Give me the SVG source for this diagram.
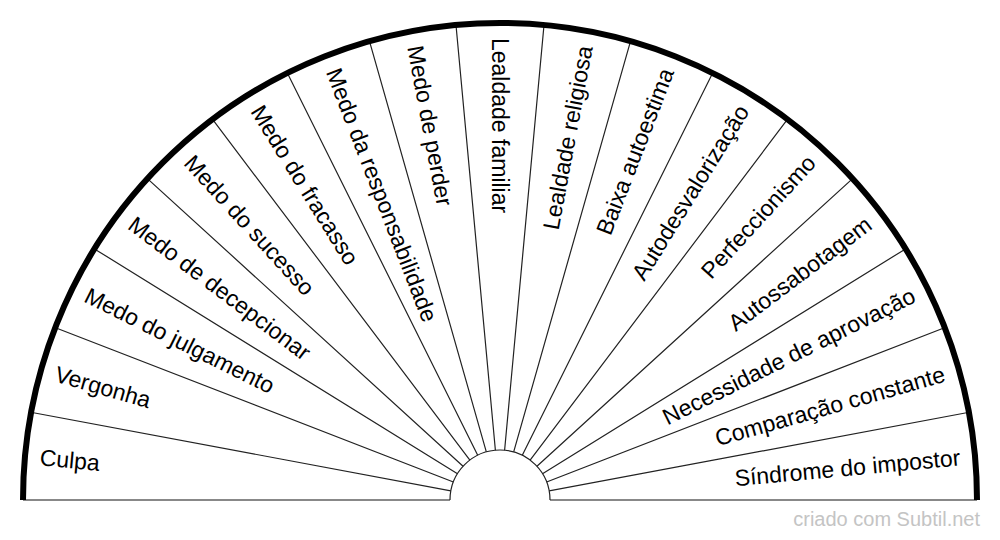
<svg xmlns="http://www.w3.org/2000/svg" width="1000" height="540" viewBox="0 0 1000 540">
<style>
.lbl{font-family:"Liberation Sans",Arial,sans-serif;font-size:23px;fill:#000;dominant-baseline:central}
.l{text-anchor:start}
.r{text-anchor:end}
.div{stroke:#222;stroke-width:1.2;fill:none}
</style>
<rect width="1000" height="540" fill="#fff"/>
<g id="connectors">
<path class="div" d="M450.85 490.81L32.11 412.53M453.38 481.94L56.14 328.05M457.49 473.68L95.30 249.42M463.05 466.31L148.23 179.32M469.87 460.10L213.15 120.14M477.71 455.24L287.83 73.90M486.32 451.91L369.74 42.17M495.39 450.21L456.08 26.03M504.61 450.21L543.92 26.03M513.68 451.91L630.26 42.17M522.29 455.24L712.17 73.90M530.13 460.10L786.85 120.14M536.95 466.31L851.77 179.32M542.51 473.68L904.70 249.42M546.62 481.94L943.86 328.05M549.15 490.81L967.89 412.53"/>
<path d="M23 500H450M550 500H977" stroke="#888" stroke-width="2" fill="none"/>
<path d="M450 500A50 50 0 0 1 550 500" class="div"/>
<path d="M23 500A477 477 0 0 1 977 500" stroke="#000" stroke-width="6" fill="none"/>
</g>
<g id="n0"><text class="lbl l" x="38" y="500" transform="rotate(5.294 500 500)">Culpa</text></g>
<g id="n1"><text class="lbl l" x="38" y="500" transform="rotate(15.882 500 500)">Vergonha</text></g>
<g id="n2"><text class="lbl l" x="38" y="500" transform="rotate(26.471 500 500)">Medo do julgamento</text></g>
<g id="n3"><text class="lbl l" x="38" y="500" transform="rotate(37.059 500 500)">Medo de decepcionar</text></g>
<g id="n4"><text class="lbl l" x="38" y="500" transform="rotate(47.647 500 500)">Medo do sucesso</text></g>
<g id="n5"><text class="lbl l" x="38" y="500" transform="rotate(58.235 500 500)">Medo do fracasso</text></g>
<g id="n6"><text class="lbl l" x="38" y="500" transform="rotate(68.824 500 500)">Medo da responsabilidade</text></g>
<g id="n7"><text class="lbl l" x="38" y="500" transform="rotate(79.412 500 500)">Medo de perder</text></g>
<g id="n8"><text class="lbl l" x="38" y="500" transform="rotate(90 500 500)">Lealdade familiar</text></g>
<g id="n9"><text class="lbl r" x="962" y="500" transform="rotate(-79.412 500 500)">Lealdade religiosa</text></g>
<g id="n10"><text class="lbl r" x="962" y="500" transform="rotate(-68.824 500 500)">Baixa autoestima</text></g>
<g id="n11"><text class="lbl r" x="962" y="500" transform="rotate(-58.235 500 500)">Autodesvalorização</text></g>
<g id="n12"><text class="lbl r" x="962" y="500" transform="rotate(-47.647 500 500)">Perfeccionismo</text></g>
<g id="n13"><text class="lbl r" x="962" y="500" transform="rotate(-37.059 500 500)">Autossabotagem</text></g>
<g id="n14"><text class="lbl r" x="962" y="500" transform="rotate(-26.471 500 500)">Necessidade de aprovação</text></g>
<g id="n15"><text class="lbl r" x="962" y="500" transform="rotate(-15.882 500 500)">Comparação constante</text></g>
<g id="n16"><text class="lbl r" x="962" y="500" transform="rotate(-5.294 500 500)">Síndrome do impostor</text></g>
<text x="980" y="526" text-anchor="end" font-family="'Liberation Sans',Arial,sans-serif" font-size="20" fill="#c4c4c4">criado com Subtil.net</text>
</svg>
